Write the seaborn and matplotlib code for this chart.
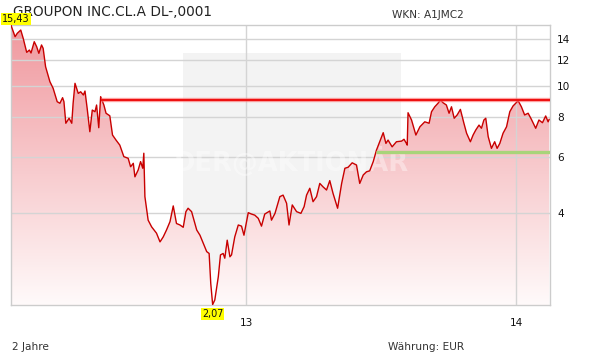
import numpy as np
import pandas as pd
import matplotlib
matplotlib.use("Agg")
import matplotlib.pyplot as plt
import seaborn as sns
from matplotlib.patches import Rectangle
from matplotlib.ticker import NullLocator, FixedLocator, FixedFormatter

# ---------------- data ----------------
years = [
    2012.128, 2012.143, 2012.151, 2012.164, 2012.173, 2012.186, 2012.196, 2012.202, 2012.214, 2012.223,
    2012.231, 2012.241, 2012.247, 2012.256, 2012.272, 2012.284, 2012.299, 2012.309, 2012.319, 2012.324,
    2012.331, 2012.343, 2012.353, 2012.358, 2012.365, 2012.377, 2012.386, 2012.396, 2012.402, 2012.410,
    2012.420, 2012.429, 2012.439, 2012.445, 2012.453, 2012.460, 2012.472, 2012.480, 2012.494, 2012.504,
    2012.517, 2012.531, 2012.546, 2012.562, 2012.571, 2012.581, 2012.587, 2012.599, 2012.608, 2012.616,
    2012.620, 2012.624, 2012.636, 2012.649, 2012.667, 2012.680, 2012.692, 2012.704, 2012.717, 2012.729,
    2012.741, 2012.754, 2012.766, 2012.776, 2012.784, 2012.797, 2012.816, 2012.828, 2012.840, 2012.853,
    2012.862, 2012.868, 2012.875, 2012.883, 2012.896, 2012.904, 2012.914, 2012.920, 2012.929, 2012.939,
    2012.945, 2012.957, 2012.970, 2012.982, 2012.991, 2013.007, 2013.019, 2013.031, 2013.044, 2013.056,
    2013.068, 2013.087, 2013.093, 2013.106, 2013.124, 2013.136, 2013.149, 2013.158, 2013.170, 2013.186,
    2013.202, 2013.214, 2013.223, 2013.235, 2013.247, 2013.260, 2013.272, 2013.284, 2013.297, 2013.309,
    2013.321, 2013.338, 2013.353, 2013.365, 2013.377, 2013.392, 2013.408, 2013.420, 2013.433, 2013.445,
    2013.457, 2013.470, 2013.482, 2013.494, 2013.507, 2013.517, 2013.525, 2013.540, 2013.556, 2013.575,
    2013.584, 2013.593, 2013.596, 2013.599, 2013.612, 2013.628, 2013.643, 2013.661, 2013.677, 2013.686,
    2013.698, 2013.710, 2013.719, 2013.729, 2013.741, 2013.751, 2013.760, 2013.770, 2013.781, 2013.793,
    2013.806, 2013.816, 2013.830, 2013.840, 2013.850, 2013.862, 2013.871, 2013.880, 2013.887, 2013.896,
    2013.908, 2013.920, 2013.929, 2013.939, 2013.951, 2013.964, 2013.976, 2013.988, 2014.007, 2014.019,
    2014.031, 2014.044, 2014.056, 2014.072, 2014.084, 2014.097, 2014.109, 2014.118, 2014.122,
]
prices = [
    15.43, 14.22, 14.57, 14.92, 14.06, 12.71, 12.92, 12.65, 13.72, 13.23,
    12.62, 13.40, 13.08, 11.46, 10.29, 9.81, 8.91, 8.81, 9.17, 8.91,
    7.63, 7.91, 7.63, 8.81, 10.17, 9.46, 9.57, 9.35, 9.62, 8.50,
    7.18, 8.39, 8.29, 8.70, 7.39, 9.24, 8.70, 8.20, 8.05, 7.01,
    6.76, 6.52, 6.00, 5.93, 5.58, 5.72, 5.19, 5.45, 5.79, 5.52,
    6.15, 4.50, 3.80, 3.62, 3.46, 3.25, 3.37, 3.54, 3.76, 4.21,
    3.71, 3.67, 3.61, 4.04, 4.14, 4.04, 3.54, 3.41, 3.22, 3.03,
    2.99, 2.41, 2.07, 2.14, 2.53, 2.96, 2.99, 2.89, 3.29, 2.92,
    2.96, 3.37, 3.67, 3.64, 3.41, 4.01, 3.97, 3.94, 3.85, 3.64,
    3.97, 4.06, 3.80, 3.99, 4.50, 4.55, 4.29, 3.67, 4.24, 4.04,
    3.99, 4.19, 4.55, 4.78, 4.34, 4.50, 4.95, 4.83, 4.72, 5.05,
    4.61, 4.14, 4.95, 5.52, 5.56, 5.74, 5.65, 4.95, 5.26, 5.38,
    5.42, 5.79, 6.29, 6.68, 7.13, 6.60, 6.76, 6.44, 6.68, 6.71,
    6.80, 6.60, 6.52, 8.23, 7.81, 7.01, 7.44, 7.71, 7.63, 8.29,
    8.59, 8.81, 9.02, 8.84, 8.70, 8.20, 8.59, 7.91, 8.10, 8.43,
    7.63, 7.10, 6.68, 7.01, 7.27, 7.53, 7.36, 7.81, 7.91, 6.93,
    6.37, 6.68, 6.37, 6.60, 7.10, 7.44, 8.29, 8.64, 8.97, 8.59,
    8.10, 8.20, 7.85, 7.36, 7.81, 7.66, 8.04, 7.71, 7.85,
]
y_ticks = [4, 6, 8, 10, 12, 14]
y_tick_labels = ["4", "6", "8", "10", "12", "14"]
x_ticks = [2013, 2014]
x_tick_labels = ["13", "14"]
resistance_start, resistance_level = 2012.461, 9.05
support_start, support_level = 2013.480, 6.20
high_label, low_label = "15,43", "2,07"
title = "GROUPON INC.CL.A DL-,0001"
wkn_text = "WKN: A1JMC2"
period_text = "2 Jahre"
currency_text = "Währung: EUR"
watermark = "DER@AKTIONÄR"

# ---------------- figure ----------------
sns.set_style("white")
plt.rcParams["font.family"] = ["DejaVu Sans"]

W, H = 611, 364
fig = plt.figure(figsize=(W / 100, H / 100), dpi=100)
L, R, T, B = 10.5, 550.0, 25.0, 305.0
ax = fig.add_axes([L / W, 1 - B / H, (R - L) / W, (B - T) / H])
ax.set_facecolor("white")
ax.set_yscale("log")
xmin, xmax = 2012.126, 2014.125
ymin, ymax = 2.064, 15.47
ax.set_xlim(xmin, xmax)
ax.set_ylim(ymin, ymax)

df = pd.DataFrame({"year": years, "price": prices})

# watermark box
ax.add_patch(Rectangle((0.319, 0.125), 0.405, 0.776, transform=ax.transAxes,
                       facecolor="#f3f3f3", edgecolor="none", zorder=0.3))

# gradient fill under the line
poly = ax.fill_between(df["year"], df["price"], ymin, facecolor="none",
                       edgecolor="none", zorder=1)
top_rgb = np.array([240, 152, 158]) / 255.0
bot_rgb = np.array([255, 250, 250]) / 255.0
t = np.linspace(0, 1, 256)[:, None]
grad = (1 - t) * top_rgb + t * bot_rgb
grad = np.repeat(grad[:, None, :], 2, axis=1)
im = ax.imshow(grad, extent=[0, 1, 0, 1], transform=ax.transAxes,
               aspect="auto", zorder=1, interpolation="bilinear")
im.set_clip_path(poly.get_paths()[0], transform=ax.transData)

# watermark text
ax.text(0.521, 0.512, watermark, transform=ax.transAxes, ha="center",
        va="center", fontsize=18.5, fontweight="bold", color="white",
        alpha=0.38, zorder=3)

# grid
for v in y_ticks:
    ax.axhline(v, color="#d4d4d4", lw=1.0, zorder=2)
for v in x_ticks:
    ax.axvline(v, color="#d4d4d4", lw=1.0, zorder=2)

# price line
sns.lineplot(data=df, x="year", y="price", ax=ax, color="#c80000",
             lw=1.0, zorder=5, sort=False)

# resistance / support
ax.hlines(resistance_level, resistance_start, xmax, color="#ff8080",
          lw=3.2, zorder=6, alpha=0.6)
ax.hlines(resistance_level, resistance_start, xmax, color="#ee1111",
          lw=1.6, zorder=6)
ax.hlines(support_level, support_start, xmax, color="#a8d47a",
          lw=2.4, zorder=6)

# axes styling
for s in ax.spines.values():
    s.set_color("#cccccc")
    s.set_linewidth(1.0)
ax.set_xlabel("")
ax.set_ylabel("")
ax.yaxis.tick_right()
ax.yaxis.set_major_locator(FixedLocator(y_ticks))
ax.yaxis.set_major_formatter(FixedFormatter(y_tick_labels))
ax.yaxis.set_minor_locator(NullLocator())
ax.xaxis.set_major_locator(FixedLocator(x_ticks))
ax.xaxis.set_major_formatter(FixedFormatter(x_tick_labels))
ax.tick_params(axis="y", length=0, pad=5, labelsize=7.6, labelcolor="#111111")
ax.tick_params(axis="x", length=0, pad=9.2, labelsize=7.6, labelcolor="#111111")

# high / low labels
i_max = int(np.argmax(prices))
i_min = int(np.argmin(prices))
ax.annotate(high_label, xy=(years[i_max], prices[i_max]), xytext=(3.6, 4.8),
            textcoords="offset points", ha="center", va="center", fontsize=6.9,
            color="#111111", annotation_clip=False, zorder=10,
            bbox=dict(boxstyle="square,pad=0.12", fc="#ffff00", ec="none"))
ax.annotate(low_label, xy=(years[i_min], prices[i_min]), xytext=(0, -6.6),
            textcoords="offset points", ha="center", va="center", fontsize=6.9,
            color="#111111", annotation_clip=False, zorder=10,
            bbox=dict(boxstyle="square,pad=0.12", fc="#ffff00", ec="none"))

# texts
fig.text(12.7 / W, 1 - 12.5 / H, title, ha="left", va="center", fontsize=9.8,
         color="#222222", zorder=-1)
fig.text(391.7 / W, 1 - 15 / H, wkn_text, ha="left", va="center", fontsize=7.6,
         color="#333333")
fig.text(11.7 / W, 1 - 347 / H, period_text, ha="left", va="center",
         fontsize=7.6, color="#333333")
fig.text(387.6 / W, 1 - 347 / H, currency_text, ha="left", va="center",
         fontsize=7.6, color="#333333")

fig.savefig("out.png", dpi=100, facecolor="white")
